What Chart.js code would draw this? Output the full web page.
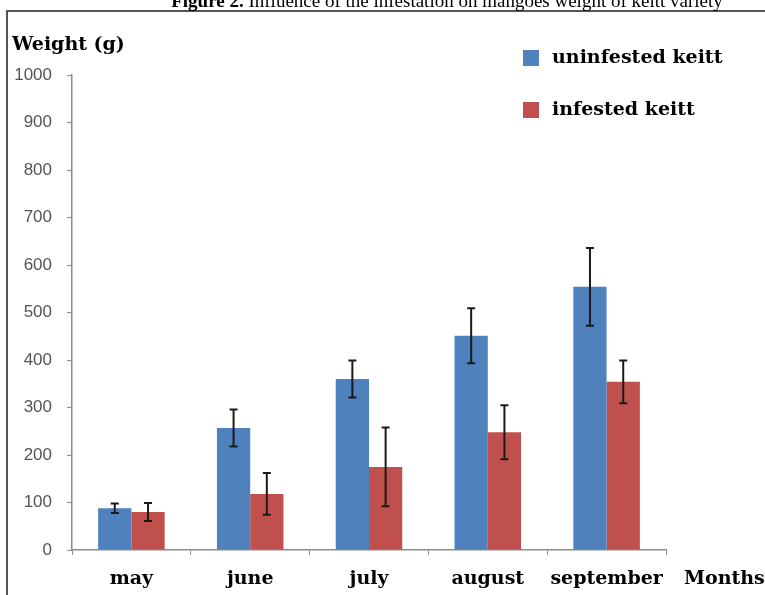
<!DOCTYPE html>
<html>
<head>
<meta charset="utf-8">
<script src="https://cdn.jsdelivr.net/npm/chart.js@4.4.0/dist/chart.umd.min.js"></script>
<style>
   html, body { margin: 0; padding: 0; background: #fff; }
</style>
</head>
<body>
<canvas id="chart" width="765" height="595"></canvas>
<script>
'use strict';

const months = ['may', 'june', 'july', 'august', 'september'];
const uninfested = [88, 257, 360, 451, 554];
const uninfestedErr = [10, 39, 39, 58, 82];
const infested = [80, 118, 175, 248, 354];
const infestedErr = [19, 44, 83, 57, 45];

const titleBold = 'Figure 2.';
const titleRest = ' Influence of the infestation on mangoes weight of keitt variety';
const yTitle = 'Weight (g)';
const xTitle = 'Months';

const boldSerif = 'bold 19px "DejaVu Serif", serif';

// error bars, legend, frame and loose titles
const extras = {
   id: 'extras',
   beforeDraw(chart) {
      const ctx = chart.ctx;
      ctx.save();
      ctx.fillStyle = '#fff';
      ctx.fillRect(0, 0, chart.width, chart.height);
      ctx.restore();
   },
   afterDatasetsDraw(chart) {
      const ctx = chart.ctx;
      const y = chart.scales.y;
      ctx.save();
      ctx.strokeStyle = '#1a1a1a';
      ctx.lineWidth = 2;
      chart.data.datasets.forEach(function (ds, i) {
         const meta = chart.getDatasetMeta(i);
         meta.data.forEach(function (bar, j) {
            const v = ds.data[j];
            const e = ds.errors[j];
            const top = y.getPixelForValue(v + e);
            const bot = y.getPixelForValue(v - e);
            ctx.beginPath();
            ctx.moveTo(bar.x, top);
            ctx.lineTo(bar.x, bot);
            ctx.moveTo(bar.x - 4, top);
            ctx.lineTo(bar.x + 4, top);
            ctx.moveTo(bar.x - 4, bot);
            ctx.lineTo(bar.x + 4, bot);
            ctx.stroke();
         });
      });
      ctx.restore();
   },
   afterDraw(chart) {
      const ctx = chart.ctx;
      ctx.save();
      // frame
      ctx.strokeStyle = '#555';
      ctx.lineWidth = 2;
      ctx.beginPath();
      ctx.moveTo(7, 600);
      ctx.lineTo(7, 11);
      ctx.lineTo(770, 11);
      ctx.stroke();

      // cut-off caption
      ctx.fillStyle = '#000';
      ctx.textBaseline = 'alphabetic';
      ctx.font = 'bold 19px "Liberation Serif", serif';
      const w1 = ctx.measureText(titleBold).width;
      ctx.font = '19px "Liberation Serif", serif';
      const w2 = ctx.measureText(titleRest).width;
      const x0 = 447 - (w1 + w2) / 2;
      ctx.font = 'bold 19px "Liberation Serif", serif';
      ctx.fillText(titleBold, x0, 7);
      ctx.font = '19px "Liberation Serif", serif';
      ctx.fillText(titleRest, x0 + w1, 7);

      // axis titles
      ctx.font = boldSerif;
      ctx.textBaseline = 'middle';
      ctx.textAlign = 'left';
      ctx.fillText(yTitle, 12, 45);
      ctx.fillText(xTitle, 684, 579);

      // legend
      const rows = [58, 110];
      chart.data.datasets.forEach(function (ds, i) {
         ctx.fillStyle = ds.backgroundColor;
         ctx.fillRect(523, rows[i] - 8, 16, 16);
         ctx.fillStyle = '#000';
         ctx.fillText(ds.label, 552, rows[i]);
      });
      ctx.restore();
   }
};

new Chart(document.getElementById('chart'), {
   type: 'bar',
   data: {
      labels: months,
      datasets: [{
         label: 'uninfested keitt',
         data: uninfested,
         errors: uninfestedErr,
         backgroundColor: '#4f81bd',
         borderWidth: 0
      }, {
         label: 'infested keitt',
         data: infested,
         errors: infestedErr,
         backgroundColor: '#c0504d',
         borderWidth: 0
      }]
   },
   options: {
      responsive: false,
      animation: false,
      events: [],
      layout: {
         padding: { left: 0, right: 99, top: 75, bottom: 0 }
      },
      datasets: {
         bar: {
            categoryPercentage: 0.56,
            barPercentage: 1.0
         }
      },
      scales: {
         x: {
            offset: true,
            afterFit: function (scale) { scale.height = 45; },
            border: { color: '#8c8c8c', width: 1.5 },
            grid: {
               offset: true,
               drawOnChartArea: false,
               drawTicks: true,
               tickLength: 5,
               color: '#8c8c8c'
            },
            ticks: {
               color: '#000',
               padding: 13,
               maxRotation: 0,
               autoSkip: false,
               font: { family: '"DejaVu Serif", serif', size: 19, weight: 'bold' }
            }
         },
         y: {
            min: 0,
            max: 1000,
            afterFit: function (scale) { scale.width = 72; },
            border: { color: '#8c8c8c', width: 1.5 },
            grid: {
               drawOnChartArea: false,
               drawTicks: true,
               tickLength: 5,
               color: '#8c8c8c'
            },
            ticks: {
               stepSize: 100,
               padding: 15,
               color: '#555',
               font: { family: '"Liberation Sans", sans-serif', size: 17 },
               callback: function (value) { return String(value); }
            }
         }
      },
      plugins: {
         legend: { display: false },
         tooltip: { enabled: false },
         title: { display: false }
      }
   },
   plugins: [extras]
});
</script>
</body>
</html>
